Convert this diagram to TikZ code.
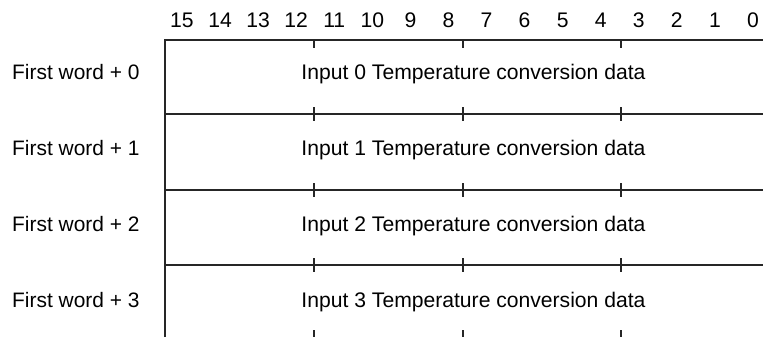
\documentclass[tikz,border=0pt]{standalone}
\usepackage{fontspec}
\setmainfont{Liberation Sans}
\begin{document}
\begin{tikzpicture}[x=1bp,y=-1bp,
  rule/.style={line width=1.2bp,draw=black!85},
  txt/.style={font=\fontsize{21.2}{25}\selectfont,inner sep=0pt,anchor=base},
  lbl/.style={font=\fontsize{21}{25}\selectfont,inner sep=0pt,anchor=base west}]
\useasboundingbox (0,0) rectangle (763,337);
% bit numbers
\foreach \i in {0,...,15}{
  \node[txt] (b\i) at ({753-38.07*\i},27) {\i};
}
% frame lines
\coordinate (tl) at (165,40);
\coordinate (bl) at (165,337);
\draw[rule] (bl) -- (tl) -- (763,40);
\foreach \y [count=\k] in {114,190,265}{
  \draw[rule] (165,\y) -- (763,\y);
  \foreach \x in {314,463,621}{
    \draw[rule] (\x,\y-7) -- (\x,\y+7);
  }
}
\foreach \x in {314,463,621}{
  \draw[rule] (\x,40) -- (\x,48);
  \draw[rule] (\x,330) -- (\x,337);
}
% rows
\foreach \k in {0,1,2,3}{
  \node[lbl] (w\k) at (12,{79.3+76.1*\k}) {First word + \k};
  \node[txt] (d\k) at (473.5,{79.3+76.1*\k}) {Input \k\ Temperature conversion data};
}
\end{tikzpicture}
\end{document}
